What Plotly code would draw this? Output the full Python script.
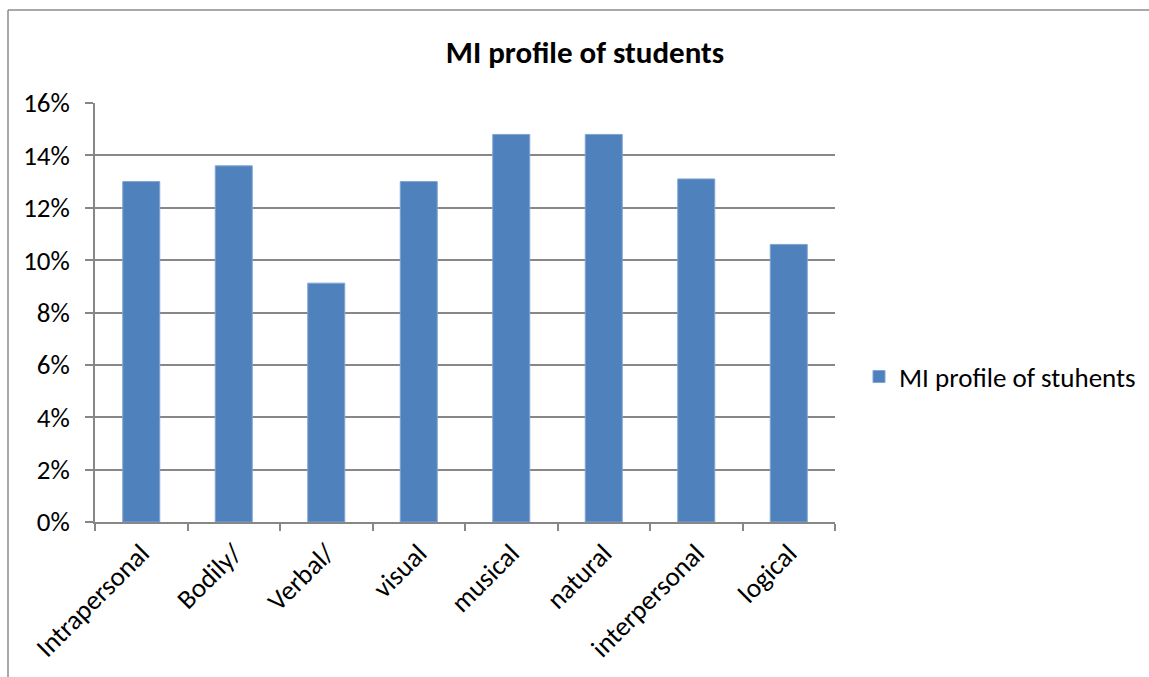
import plotly.graph_objects as go

categories = ["Intrapersonal", "Bodily/", "Verbal/", "visual", "musical", "natural", "interpersonal", "logical"]
values = [0.130, 0.136, 0.0912, 0.130, 0.148, 0.148, 0.131, 0.106]
series_name = "MI profile of stuhents"
title_text = "MI profile of students"

W, H = 1149, 677
L, R, T, B = 95, 835, 103, 522

FONT = "Carlito, Calibri, Lato, sans-serif"
GRID = "#878787"

fig = go.Figure()
fig.add_trace(go.Bar(
    x=categories, y=values, name=series_name,
    marker=dict(color="#4F81BD", line=dict(color="#7FA4D3", width=1)),
    showlegend=True,
))

fig.update_layout(
    width=W, height=H,
    margin=dict(l=L, r=W - R, t=T, b=H - B, pad=0, autoexpand=False),
    paper_bgcolor="white", plot_bgcolor="white",
    bargap=0.6,
    font=dict(family=FONT, size=27, color="black"),
    title=dict(text="<b>" + title_text + "</b>", x=585 / W, xanchor="center",
               y=1 - 52 / H, yanchor="middle", font=dict(size=31, family=FONT)),
    showlegend=True,
    legend=dict(x=(859 - L) / (R - L), xanchor="left", y=(B - 377) / (B - T), yanchor="middle",
                font=dict(size=27, family=FONT), itemwidth=30, bgcolor="rgba(0,0,0,0)"),
    xaxis=dict(
        type="category", tickangle=-45, tickson="boundaries",
        ticks="outside", ticklen=7, tickcolor=GRID, tickwidth=1.5,
        showline=True, linecolor=GRID, linewidth=1.5,
        showgrid=False, tickfont=dict(size=27, family=FONT),
        ticklabelstandoff=3,
    ),
    yaxis=dict(
        range=[0, 0.16], dtick=0.02, tickformat=".0%",
        ticks="outside", ticklen=8, tickcolor=GRID, tickwidth=1.5,
        showline=True, linecolor=GRID, linewidth=1.5,
        showgrid=True, gridcolor=GRID, gridwidth=1.5,
        zeroline=False, tickfont=dict(size=27, family=FONT),
        ticklabelstandoff=10,
    ),
)

# outer chart frame (left and top edges visible)
x0 = (8 - L) / (R - L)
y0 = 1 + (T - 10) / (B - T)
yb = -(H - B + 5) / (B - T)
x1 = 1 + (W - R + 5) / (R - L)
fig.add_shape(type="line", xref="paper", yref="paper", x0=x0, x1=x0, y0=yb, y1=y0,
              line=dict(color="#8c8c8c", width=1.5))
fig.add_shape(type="line", xref="paper", yref="paper", x0=x0, x1=x1, y0=y0, y1=y0,
              line=dict(color="#8c8c8c", width=1.5))

fig.write_html("out.html")
